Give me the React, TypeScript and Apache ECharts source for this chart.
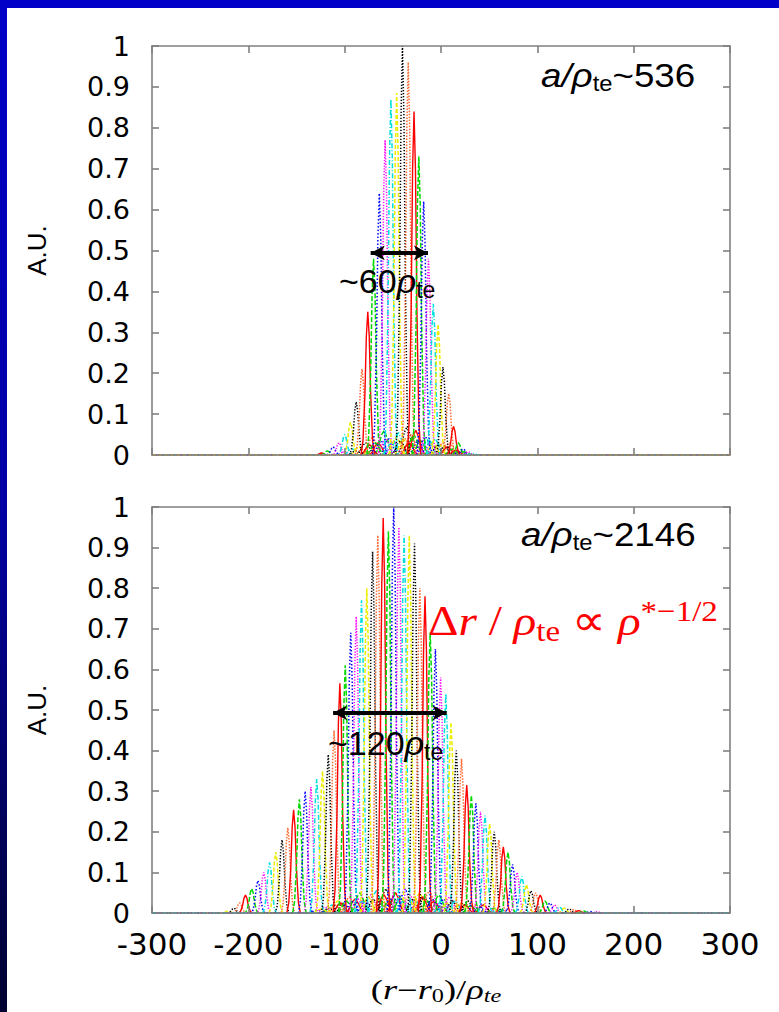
import React, { useEffect, useRef } from 'react';
import * as echarts from 'echarts';

// ---------- axes ----------
const xMin = -300;
const xMax = 300;
const xStep = 100;
const yMin = 0;
const yMax = 1;
const yStep = 0.1;

// ---------- line styles (gnuplot cycle) ----------
const lineColors = ['#ff0000', '#00d800', '#0000ff', '#ff00ff', '#00e0e0', '#eeee00', '#000000', '#ff6a30'];
const lineDashes: (number[] | null)[] = [null, [5, 2], [1.5, 2], [1.2, 1.6], [5, 2, 1, 2], [4, 2], [1.3, 1.7], [1.5, 1.5]];

// ---------- shape of one narrow peak (offset in rho_te, relative height) ----------
const peakOffsets = [-7, -5, -3, -1.5, 0, 1.5, 3, 5, 7];
const peakShape = [0, 0.1, 0.42, 0.83, 1, 0.83, 0.42, 0.1, 0];
const bumpOffsets = [-9, -6, -3, 0, 3, 6, 9];
const bumpShape = [0, 0.3, 0.8, 1, 0.7, 0.25, 0];

// ---------- top panel: a/rho_te ~ 536 ----------
const topFirstColor = 0;
const topCenters = [-124, -118, -112, -106, -100, -94, -88, -82, -76, -70, -64, -58, -52, -46, -40, -34, -28, -23, -18, -13, -8, -3, 2, 8, 13, 18, 23, 28, 33];
const topHeights = [0.005, 0.01, 0.02, 0.03, 0.05, 0.08, 0.13, 0.21, 0.35, 0.48, 0.64, 0.77, 0.87, 0.885, 1.0, 0.96, 0.84, 0.73, 0.62, 0.48, 0.37, 0.32, 0.215, 0.15, 0.07, 0.03, 0.015, 0.008, 0.004];
const topNoiseCenters = [-100, -92, -85, -78, -71, -65, -59, -54, -49, -44, -39, -35, -31, -26, -21, -16, -11, -6, -1, 4, 9, 16, 24];
const topNoiseHeights = [0.008, 0.015, 0.02, 0.03, 0.045, 0.03, 0.06, 0.04, 0.035, 0.055, 0.04, 0.07, 0.05, 0.06, 0.035, 0.045, 0.03, 0.04, 0.025, 0.02, 0.03, 0.012, 0.008];
const topNoise2Centers = [-88, -81, -74, -68, -62, -57, -51, -46, -42, -37, -33, -28, -24, -19, -13, -8, -3, 2, 7, 12, 20];
const topNoise2Heights = [0.01, 0.015, 0.025, 0.03, 0.035, 0.04, 0.03, 0.045, 0.035, 0.04, 0.03, 0.05, 0.035, 0.03, 0.04, 0.03, 0.025, 0.03, 0.02, 0.015, 0.01];
const topArrow = [-73, -13.5];
const topArrowY = 0.494;

// ---------- bottom panel: a/rho_te ~ 2146 ----------
const bottomFirstColor = 5;
const bottomCenters = [-221, -215, -209,
  -203, -196.5, -190, -184, -178, -171.5, -165, -159,
  -153, -147, -141, -135, -129, -123, -117, -111,
  -105, -99.4, -93.7, -88, -82.5, -77, -71, -65.6,
  -60, -54.6, -49.1, -43.7, -38.3, -32.9, -27.5, -22,
  -16.6, -11.2, -5.8, -0.4, 5, 10.4, 15.9, 21.3,
  26.7, 31.5, 36.2, 41, 45.7, 50.5, 55.2, 60,
  64.7, 69.5, 74.3, 79, 83.9, 88.7, 93.4, 98.2,
  103, 108, 113, 118, 123, 128, 133, 138, 143, 148, 155, 162];
const bottomHeights = [0.005, 0.012, 0.025,
  0.044, 0.06, 0.08, 0.10, 0.125, 0.15, 0.18, 0.21,
  0.254, 0.28, 0.30, 0.31, 0.33, 0.35, 0.39, 0.45,
  0.566, 0.61, 0.69, 0.73, 0.77, 0.80, 0.89, 0.93,
  0.973, 0.94, 1.0, 0.95, 0.93, 0.93, 0.91, 0.80,
  0.78, 0.69, 0.65, 0.58, 0.54, 0.47, 0.40, 0.38,
  0.315, 0.29, 0.27, 0.25, 0.24, 0.22, 0.20, 0.18,
  0.163, 0.15, 0.12, 0.10, 0.09, 0.07, 0.055, 0.05,
  0.044, 0.03, 0.025, 0.02, 0.015, 0.012, 0.01, 0.008, 0.006, 0.005, 0.004, 0.003];
const bottomNoiseCenters = [-128, -120, -113, -107, -101, -95, -89, -84, -78, -73, -67, -62, -57, -52, -47, -42, -37, -32, -27, -22, -17, -12, -7, -2, 3, 9, 15, 21, 28, 35, 44, 55, 66];
const bottomNoiseHeights = [0.008, 0.015, 0.02, 0.03, 0.025, 0.04, 0.035, 0.05, 0.03, 0.045, 0.055, 0.04, 0.06, 0.035, 0.05, 0.04, 0.06, 0.045, 0.035, 0.05, 0.04, 0.055, 0.03, 0.045, 0.035, 0.04, 0.03, 0.025, 0.03, 0.02, 0.02, 0.012, 0.008];
const bottomNoise2Centers = [-124, -116, -110, -104, -98, -92, -86, -81, -75, -70, -64, -59, -54, -49, -44, -39, -34, -29, -24, -19, -14, -9, -4, 1, 6, 12, 18, 25, 31, 40, 50, 60];
const bottomNoise2Heights = [0.01, 0.012, 0.02, 0.025, 0.03, 0.028, 0.035, 0.03, 0.04, 0.035, 0.03, 0.045, 0.03, 0.04, 0.035, 0.03, 0.04, 0.035, 0.03, 0.04, 0.03, 0.035, 0.025, 0.03, 0.025, 0.03, 0.02, 0.02, 0.018, 0.015, 0.012, 0.01];
const bottomArrow = [-112, 5.9];
const bottomArrowY = 0.493;

function buildPeaks(
  centers: number[], heights: number[], firstColor: number, axisIdx: number,
  offsets: number[], shape: number[], baseline: boolean, tag: string
): any[] {
  return centers.map((c, i) => {
    const ci = (firstColor + i) % lineColors.length;
    const data: number[][] = [];
    // only a few curves (one of each light colour) run along the whole baseline
    const withBase = baseline && i < 8 && ci !== 0 && ci !== 6;
    if (withBase) data.push([xMin, 0]);
    offsets.forEach((o, j) => data.push([c + o, heights[i] * shape[j]]));
    if (withBase) data.push([xMax, 0]);
    const dash = lineDashes[ci];
    return {
      type: 'line',
      name: tag + i,
      xAxisIndex: axisIdx,
      yAxisIndex: axisIdx,
      data,
      showSymbol: false,
      symbol: 'none',
      silent: true,
      z: 3,
      lineStyle: {
        color: lineColors[ci],
        width: ci === 0 ? 1.4 : 1.5,
        type: dash ? dash : 'solid',
      },
    };
  });
}

function arrowLine(axisIdx: number, xs: number[], y: number) {
  return {
    type: 'line',
    name: 'arrow' + axisIdx,
    xAxisIndex: axisIdx,
    yAxisIndex: axisIdx,
    data: [],
    silent: true,
    z: 6,
    markLine: {
      silent: true,
      animation: false,
      symbol: ['arrow', 'arrow'],
      symbolSize: [11, 14],
      label: { show: false },
      emphasis: { disabled: true },
      lineStyle: { color: '#000', width: 4, type: 'solid' },
      data: [[{ coord: [xs[0], y] }, { coord: [xs[1], y] }]],
    },
  };
}

const frameColor = '#808080';
const axisFont = 'DejaVu Sans';

function xAxes(gridIndex: number, showLabels: boolean) {
  const base = {
    type: 'value',
    gridIndex,
    min: xMin,
    max: xMax,
    interval: xStep,
    splitLine: { show: false },
    axisLine: { show: true, onZero: false, lineStyle: { color: frameColor, width: 1.6 } },
    axisTick: { show: true, inside: true, length: 7, lineStyle: { color: frameColor, width: 1.6 } },
  };
  return [
    { ...base, position: 'bottom', z: 8, axisLabel: { show: showLabels, color: '#000', fontFamily: axisFont, fontSize: 31, margin: 15 } },
    { ...base, position: 'top', z: 8, axisLabel: { show: false } },
  ];
}

function yAxes(gridIndex: number) {
  const base = {
    type: 'value',
    gridIndex,
    min: yMin,
    max: yMax,
    interval: yStep,
    splitLine: { show: false },
    axisLine: { show: true, onZero: false, lineStyle: { color: frameColor, width: 1.6 } },
    axisTick: { show: true, inside: true, length: 7, lineStyle: { color: frameColor, width: 1.6 } },
  };
  return [
    {
      ...base, position: 'left',
      name: 'A.U.', nameLocation: 'middle', nameGap: 102,
      nameTextStyle: { color: '#000', fontFamily: 'Liberation Sans', fontSize: 26 },
      axisLabel: { show: true, color: '#000', fontFamily: axisFont, fontSize: 27, margin: 22 },
    },
    { ...base, position: 'right', axisLabel: { show: false } },
  ];
}

const sansRich = (size: number, sub: number) => ({
  n: { fontFamily: 'Liberation Sans', fontSize: size, lineHeight: 40, fill: '#000', color: '#000' },
  i: { fontFamily: 'Liberation Sans', fontSize: size, fontStyle: 'italic', lineHeight: 40, fill: '#000', color: '#000' },
  s: { fontFamily: 'Liberation Sans', fontSize: sub, lineHeight: 12, verticalAlign: 'bottom', fill: '#000', color: '#000' },
});

const RED = '#ff0000';
const serifRed = (extra: any) => ({ fontFamily: 'Liberation Serif', fill: RED, color: RED, ...extra });

export default function App() {
  const ref = useRef<HTMLDivElement>(null);
  useEffect(() => {
    document.body.style.margin = '0';
    if (!ref.current) return;
    const chart = echarts.init(ref.current, undefined, { renderer: 'svg' });

    const series: any[] = [
      ...buildPeaks(topNoiseCenters, topNoiseHeights, 3, 0, bumpOffsets, bumpShape, false, 'tn'),
      ...buildPeaks(topNoise2Centers, topNoise2Heights, 6, 0, bumpOffsets, bumpShape, false, 'tm'),
      ...buildPeaks(topCenters, topHeights, topFirstColor, 0, peakOffsets, peakShape, true, 't'),
      ...buildPeaks(bottomNoiseCenters, bottomNoiseHeights, 2, 2, bumpOffsets, bumpShape, false, 'bn'),
      ...buildPeaks(bottomNoise2Centers, bottomNoise2Heights, 5, 2, bumpOffsets, bumpShape, false, 'bm'),
      ...buildPeaks(bottomCenters, bottomHeights, bottomFirstColor, 2, peakOffsets, peakShape, true, 'b'),
      arrowLine(0, topArrow, topArrowY),
      arrowLine(2, bottomArrow, bottomArrowY),
    ];

    const option: any = {
      animation: false,
      backgroundColor: '#ffffff',
      grid: [
        { left: 152, top: 46, width: 578, height: 409 },
        { left: 152, top: 507, width: 578, height: 406 },
      ],
      xAxis: [...xAxes(0, false), ...xAxes(1, true)],
      yAxis: [...yAxes(0), ...yAxes(1)],
      series,
      graphic: [
        { type: 'rect', left: 0, top: 0, z: 100, shape: { x: 0, y: 0, width: 779, height: 8 }, style: { fill: '#0000c8' } },
        {
          type: 'rect', left: 0, top: 0, z: 100, shape: { x: 0, y: 0, width: 7, height: 1012 },
          style: {
            fill: new echarts.graphic.LinearGradient(0, 0, 0, 1, [
              { offset: 0, color: '#0000c8' },
              { offset: 0.5, color: '#0000a4' },
              { offset: 1, color: '#000030' },
            ]),
          },
        },
        {
          type: 'text', x: 541, y: 74.6, z: 50, scaleX: 1.08,
          style: { text: '{i|a/ρ}{s|te}{n|~536}', rich: sansRich(34, 22), align: 'left', verticalAlign: 'middle' },
        },
        {
          type: 'text', x: 339, y: 281, z: 50,
          style: { text: '{n|~60}{i|ρ}{s|te}', rich: sansRich(34, 23), align: 'left', verticalAlign: 'middle' },
        },
        {
          type: 'text', x: 521, y: 533.6, z: 50, scaleX: 1.08,
          style: { text: '{i|a/ρ}{s|te}{n|~2146}', rich: sansRich(34, 22), align: 'left', verticalAlign: 'middle' },
        },
        {
          type: 'text', x: 328, y: 743, z: 50,
          style: { text: '{n|~120}{i|ρ}{s|te}', rich: sansRich(34, 23), align: 'left', verticalAlign: 'middle' },
        },
        {
          type: 'text', x: 428, y: 620.8, z: 50, scaleX: 1.1,
          style: {
            text: '{d|Δ}{ri|r}{n| / }{ri|ρ}{sb|te}{n| ∝ }{ri|ρ}{sp|*−1/2}',
            align: 'left', verticalAlign: 'middle', fill: RED,
            rich: {
              d: serifRed({ fontSize: 43, lineHeight: 50 }),
              n: serifRed({ fontSize: 43, lineHeight: 50 }),
              ri: serifRed({ fontSize: 43, fontStyle: 'italic', lineHeight: 50 }),
              sb: serifRed({ fontSize: 30, lineHeight: 12, verticalAlign: 'bottom' }),
              sp: serifRed({ fontSize: 30, lineHeight: 24, verticalAlign: 'top' }),
            },
          },
        },
        {
          type: 'text', x: 436, y: 990, z: 50, scaleX: 1.35,
          style: {
            text: '{n|(}{i|r}{n|−}{i|r}{s|0}{n|)/}{i|ρ}{si|te}',
            align: 'center', verticalAlign: 'middle',
            rich: {
              n: { fontFamily: 'Liberation Serif', fontSize: 27, lineHeight: 30, fill: '#000' },
              i: { fontFamily: 'Liberation Serif', fontSize: 27, fontStyle: 'italic', lineHeight: 30, fill: '#000' },
              s: { fontFamily: 'Liberation Serif', fontSize: 18, lineHeight: 16, verticalAlign: 'bottom', fill: '#000' },
              si: { fontFamily: 'Liberation Serif', fontSize: 18, fontStyle: 'italic', lineHeight: 16, verticalAlign: 'bottom', fill: '#000' },
            },
          },
        },
      ],
    };
    chart.setOption(option);
    return () => chart.dispose();
  }, []);
  return <div ref={ref} style={{ width: 779, height: 1012 }} />;
}
